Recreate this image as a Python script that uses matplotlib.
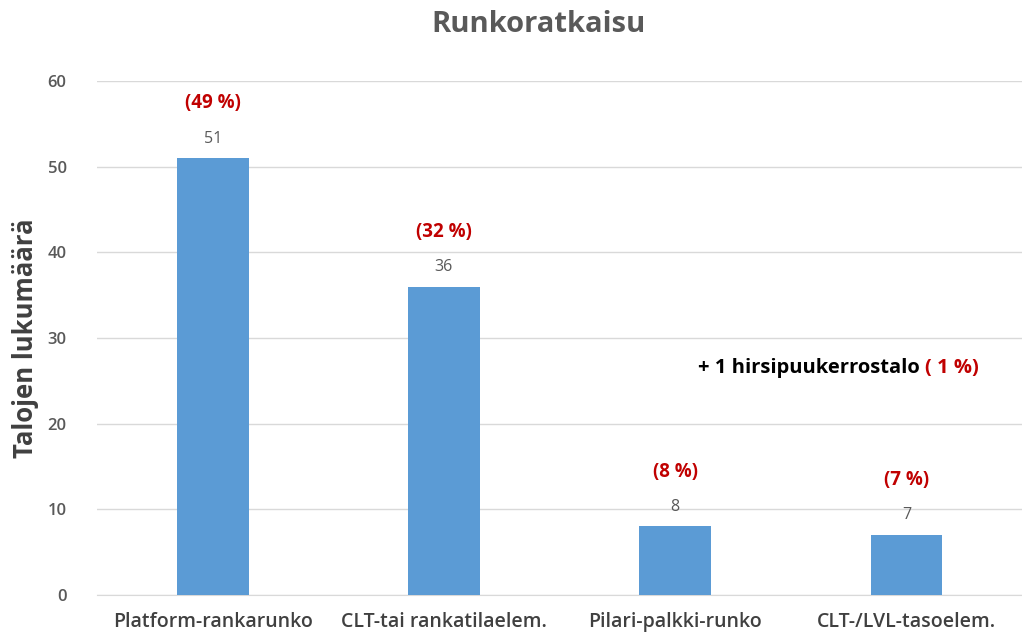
import matplotlib.pyplot as plt

kategoriat = ["Platform-rankarunko", "CLT-tai rankatilaelem.", "Pilari-palkki-runko", "CLT-/LVL-tasoelem."]
maarat = [51, 36, 8, 7]
osuudet = ["(49 %)", "(32 %)", "(8 %)", "(7 %)"]
y_ticks = [0, 10, 20, 30, 40, 50, 60]

plt.rcParams['font.family'] = ['Open Sans', 'DejaVu Sans']

fig = plt.figure(figsize=(10.22, 6.39), dpi=100)
ax = fig.add_axes([0.095, 0.069, 0.905, 0.804])

x = range(len(kategoriat))
barras = ax.bar(x, maarat, width=0.31, color='#5B9BD5', zorder=3)

for bar, n, p in zip(barras, maarat, osuudet):
    cx = bar.get_x() + bar.get_width() / 2
    ax.text(cx, n + 2.3, f'{n}', ha='center', va='center', fontsize=11.5, color='#595959')
    ax.text(cx, n + 6.4, p, ha='center', va='center', fontsize=13.5, color='#C00000', fontweight='bold')

# huomautus
t1 = ax.text(2.1, 26.5, '+ 1 hirsipuukerrostalo ', ha='left', va='center', fontsize=14.5,
             fontweight='bold', color='black')
ax.annotate('( 1 %)', xy=(1, 0.5), xycoords=t1, ha='left', va='center', fontsize=14.5,
            fontweight='bold', color='#C00000')

ax.set_xlim(-0.5, 3.5)
ax.set_ylim(0, 60)
ax.set_yticks(y_ticks)
ax.set_xticks(list(x))
ax.set_xticklabels(kategoriat, fontsize=14, fontweight='semibold', color='#404040')
for lab in ax.get_yticklabels():
    lab.set_fontsize(12)
    lab.set_fontweight('semibold')
    lab.set_color('#595959')
ax.tick_params(axis='both', length=0)
ax.tick_params(axis='y', pad=22)
ax.tick_params(axis='x', pad=12)
ax.grid(axis='y', color='#D9D9D9', linewidth=1, zorder=0)
for s in ['top', 'right', 'left']:
    ax.spines[s].set_visible(False)
ax.spines['bottom'].set_color('#D9D9D9')

ax.set_ylabel('Talojen lukumäärä', fontsize=18.5, fontweight='bold', color='#404040', labelpad=6)
fig.text(0.527, 0.962, 'Runkoratkaisu', ha='center', va='center', fontsize=21,
         fontweight='bold', color='#595959')

plt.savefig('out.png', dpi=100)
